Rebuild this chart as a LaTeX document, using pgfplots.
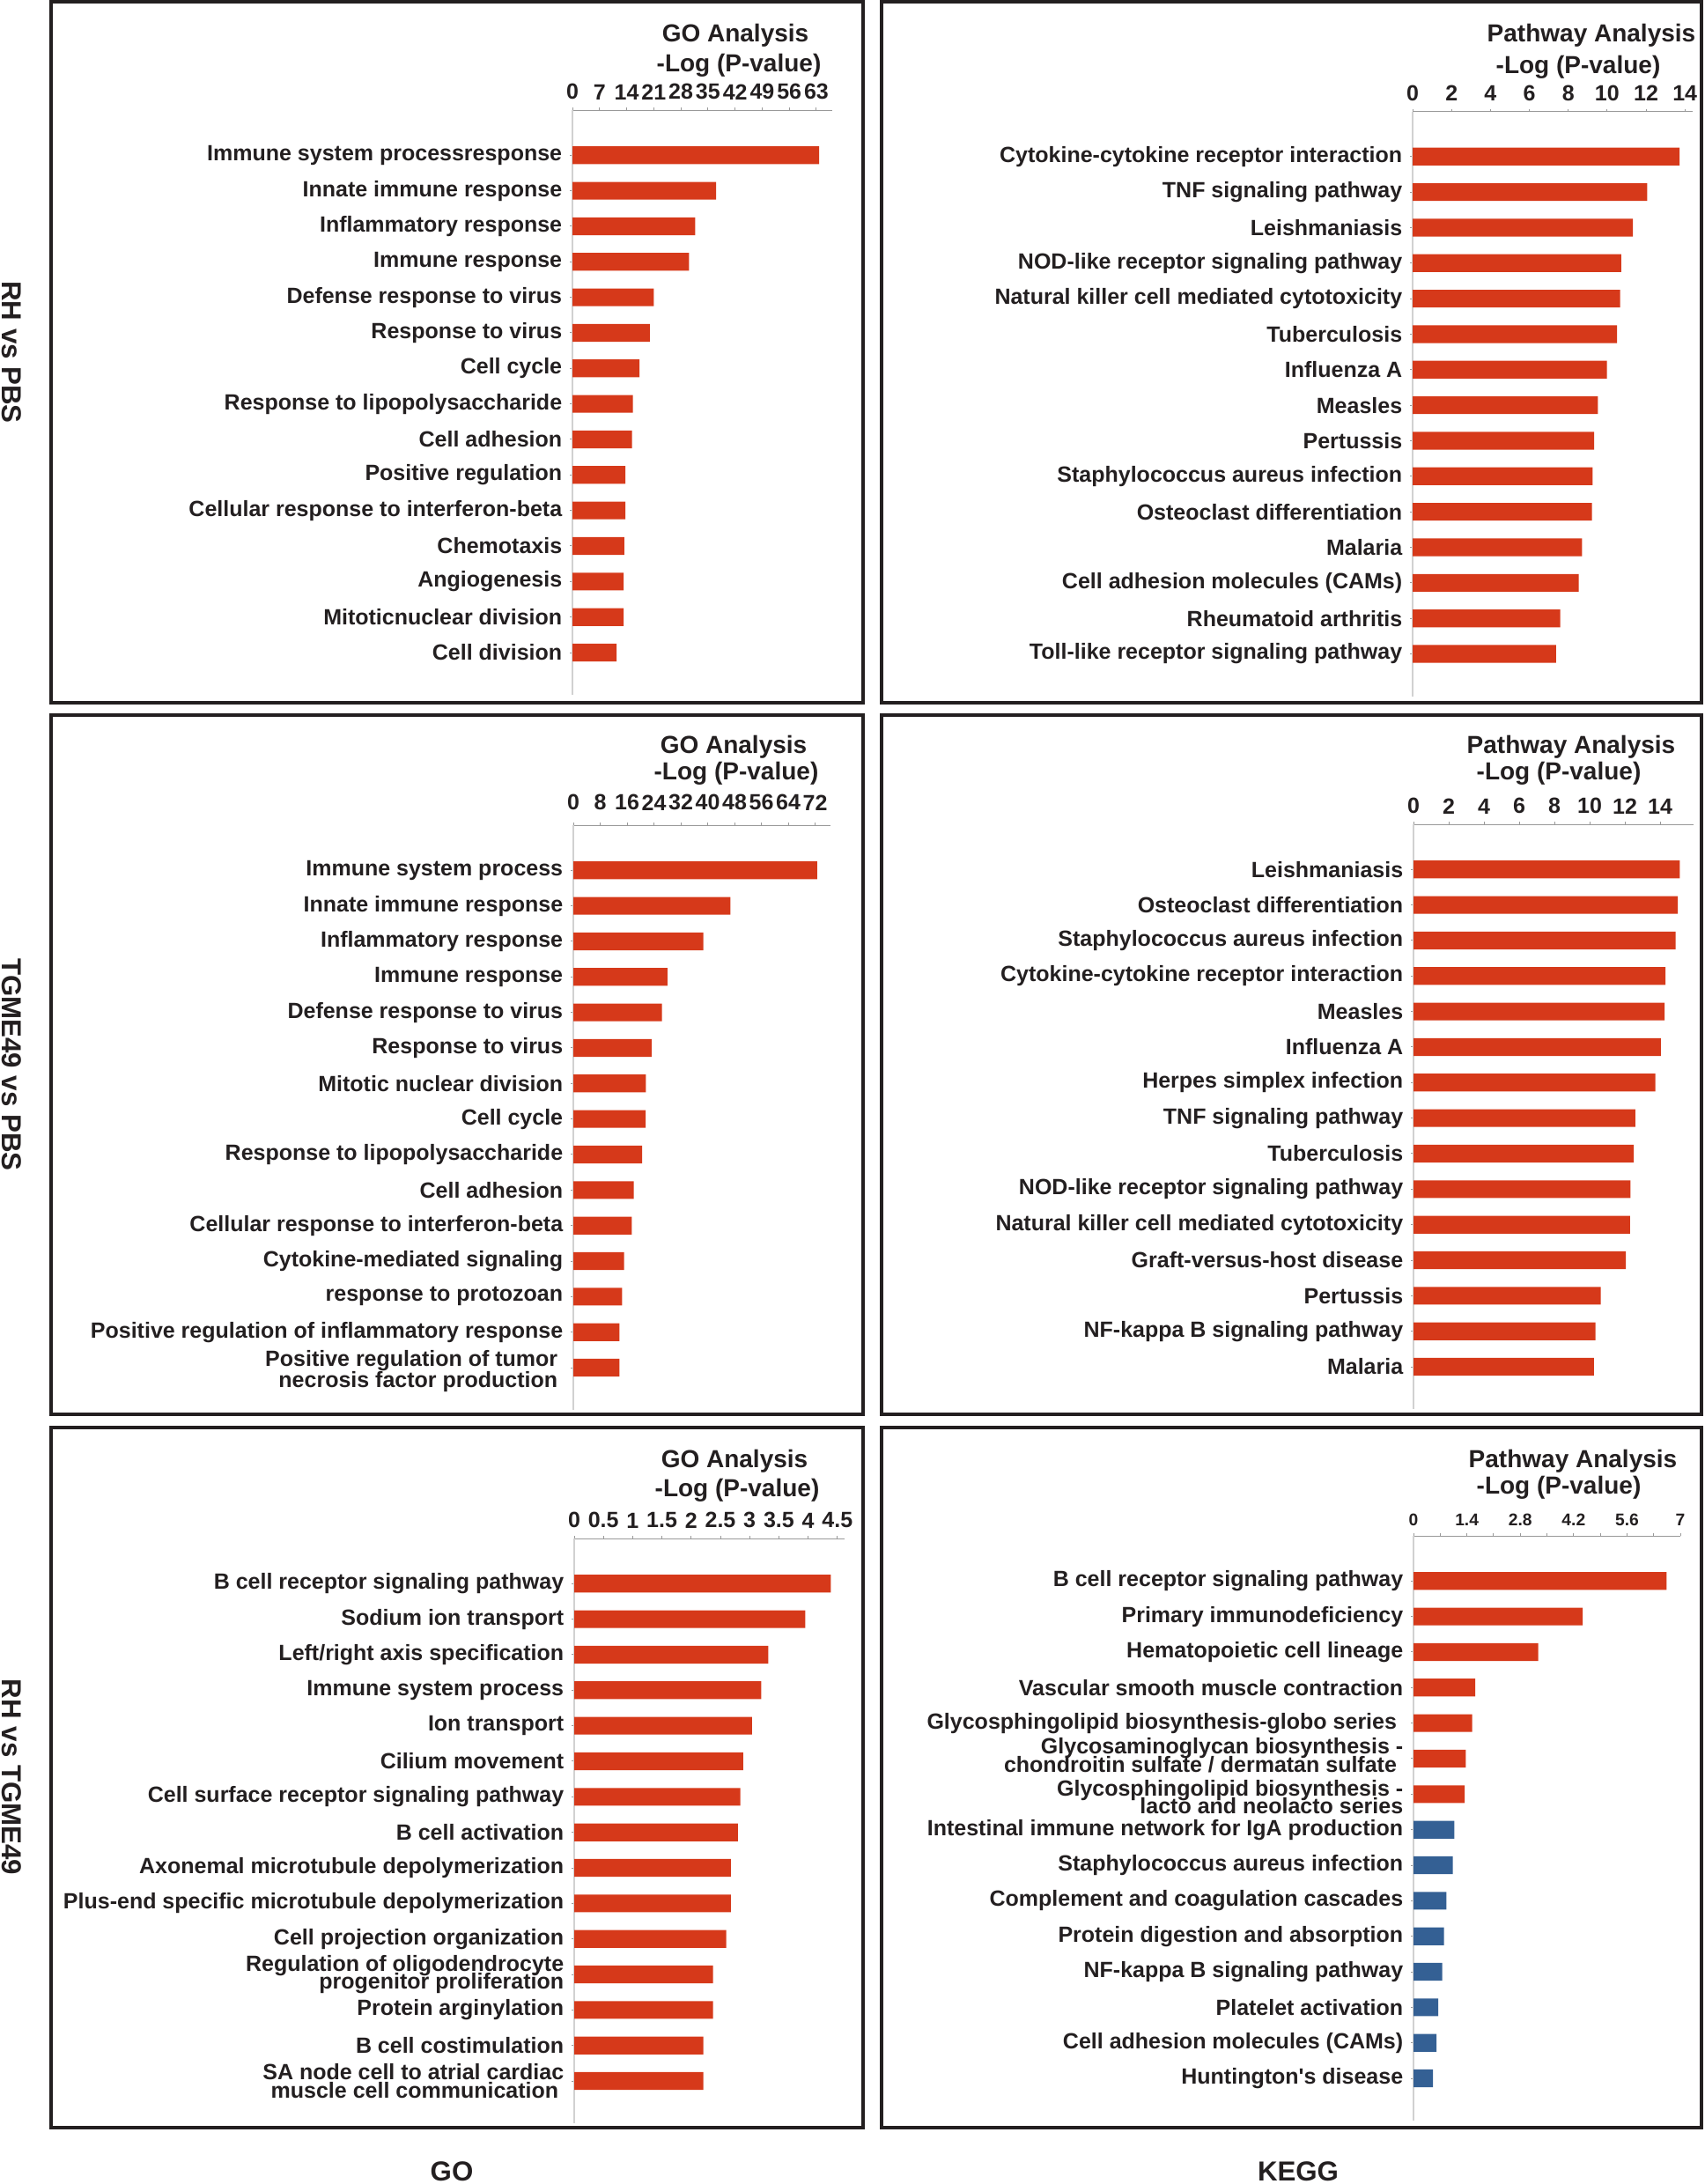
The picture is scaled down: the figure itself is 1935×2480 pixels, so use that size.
\documentclass[border=0pt]{standalone}
\usepackage{pgfplots}
\pgfplotsset{compat=1.18}
\usepackage{fontspec}
\setmainfont{Liberation Sans}
\definecolor{txt}{RGB}{35,31,32}
\definecolor{barred}{RGB}{214,57,26}
\definecolor{barblue}{RGB}{52,96,148}

\newcommand{\lblfont}{\fontsize{10}{8.2}\selectfont\bfseries\lineskiplimit=-20pt\relax\lineskip=0pt\relax}
\pgfplotsset{
  panel/.style={
    scale only axis, anchor=north west,
    height=265.6pt,
    xmin=0, y dir=reverse, ymin=-0.27, ymax=16.19,
    ytick={1,...,15},
    axis x line*=top, axis y line*=left,
    x axis line style={draw=black!40, line width=0.4pt},
    y axis line style={draw=black!18, line width=0.8pt},
    tick align=outside,
    major tick length=1.2pt,
    minor tick length=1.2pt,
    tick style={draw=black!40, line width=0.4pt},
    xticklabel style={font=\fontsize{10}{12}\selectfont\bfseries, text=txt},
    yticklabel style={font=\lblfont, text=txt, align=right},
  },
  bars/.style={xbar, bar shift=0pt, bar width=0.5, draw=none, fill=barred},
}
\newcommand{\ttl}{\fontsize{11.2}{13}\selectfont\bfseries}
\newcommand{\capfont}{\fontsize{12.5}{15}\selectfont\bfseries}

\begin{document}
\begin{tikzpicture}[x=0.4pt,y=-0.4pt]
\useasboundingbox (0,0) rectangle (1935,2480);

% panel frames
\foreach \ya/\yb in {2/798, 812/1606, 1621/2416}{
  \draw[line width=1.3pt, txt] (58,\ya) rectangle (980,\yb);
  \draw[line width=1.3pt, txt] (1001,\ya) rectangle (1932,\yb);
}

% row and column captions
\node[rotate=-90, text=txt, font=\capfont] at (13,400) {RH vs PBS};
\node[rotate=-90, text=txt, font=\capfont] at (13,1209) {TGME49 vs PBS};
\node[rotate=-90, text=txt, font=\capfont] at (13,2018) {RH vs TGME49};
\node[text=txt, font=\capfont] at (513,2466) {GO};
\node[text=txt, font=\capfont] at (1474,2466) {KEGG};

% titles
\node[anchor=base, text=txt, font=\ttl] at (835,47) {GO Analysis};
\node[anchor=base, text=txt, font=\ttl] at (839,81) {-Log (P-value)};
\node[anchor=base, text=txt, font=\ttl] at (1807,47) {Pathway Analysis};
\node[anchor=base, text=txt, font=\ttl] at (1792,83) {-Log (P-value)};
\node[anchor=base, text=txt, font=\ttl] at (833,855) {GO Analysis};
\node[anchor=base, text=txt, font=\ttl] at (836,885) {-Log (P-value)};
\node[anchor=base, text=txt, font=\ttl] at (1784,855) {Pathway Analysis};
\node[anchor=base, text=txt, font=\ttl] at (1770,885) {-Log (P-value)};
\node[anchor=base, text=txt, font=\ttl] at (834,1666) {GO Analysis};
\node[anchor=base, text=txt, font=\ttl] at (837,1699) {-Log (P-value)};
\node[anchor=base, text=txt, font=\ttl] at (1786,1666) {Pathway Analysis};
\node[anchor=base, text=txt, font=\ttl] at (1770,1696) {-Log (P-value)};

% RH vs PBS, GO
\begin{axis}[panel, at={(260pt,-50pt)}, width=118pt, xmax=67.1,
  xtick={0,7,...,63}, xticklabels={0,7,14,21,28,35,42,49,56,63},
  yticklabels={Immune system processresponse, Innate immune response,
    Inflammatory response, Immune response, Defense response to virus,
    Response to virus, Cell cycle, Response to lipopolysaccharide,
    Cell adhesion, Positive regulation, Cellular response to interferon-beta,
    Chemotaxis, Angiogenesis, Mitoticnuclear division, Cell division}]
\addplot[bars] coordinates {(63.7,1) (37.1,2) (31.7,3) (30.1,4) (21.0,5)
  (20.0,6) (17.3,7) (15.6,8) (15.4,9) (13.7,10) (13.7,11) (13.4,12)
  (13.2,13) (13.2,14) (11.4,15)};
\end{axis}

% RH vs PBS, KEGG
\begin{axis}[panel, at={(641.6pt,-50.6pt)}, width=127.2pt, xmax=14.4,
  xtick={0,2,...,14}, xticklabels={0,2,4,6,8,10,12,14},
  yticklabels={Cytokine-cytokine receptor interaction, TNF signaling pathway,
    Leishmaniasis, NOD-like receptor signaling pathway,
    Natural killer cell mediated cytotoxicity, Tuberculosis, Influenza A,
    Measles, Pertussis, Staphylococcus aureus infection,
    Osteoclast differentiation, Malaria, Cell adhesion molecules (CAMs),
    Rheumatoid arthritis, Toll-like receptor signaling pathway}]
\addplot[bars] coordinates {(13.73,1) (12.06,2) (11.33,3) (10.73,4) (10.67,5)
  (10.51,6) (9.99,7) (9.53,8) (9.33,9) (9.25,10) (9.22,11) (8.71,12)
  (8.54,13) (7.59,14) (7.37,15)};
\end{axis}

% TGME49 vs PBS, GO
\begin{axis}[panel, at={(260.4pt,-374.8pt)}, width=116.7pt, xmax=76.5,
  xtick={0,8,...,72}, xticklabels={0,8,16,24,32,40,48,56,64,72},
  xticklabel style={yshift=2pt},
  yticklabels={Immune system process, Innate immune response,
    Inflammatory response, Immune response, Defense response to virus,
    Response to virus, Mitotic nuclear division, Cell cycle,
    Response to lipopolysaccharide, Cell adhesion,
    Cellular response to interferon-beta, Cytokine-mediated signaling,
    response to protozoan, Positive regulation of inflammatory response,
    {\rule{0pt}{10.5pt}Positive regulation of tumor\hspace*{2.4pt}\\[1.6pt]necrosis factor production\hspace*{2.4pt}}}]
\addplot[bars] coordinates {(72.6,1) (46.8,2) (38.7,3) (28.0,4) (26.4,5)
  (23.3,6) (21.6,7) (21.5,8) (20.5,9) (18.0,10) (17.4,11) (15.1,12)
  (14.5,13) (13.7,14) (13.7,15)};
\end{axis}

% TGME49 vs PBS, KEGG
\begin{axis}[panel, at={(642pt,-374.4pt)}, width=127.2pt, xmax=15.9,
  xtick={0,2,...,14}, xticklabels={0,2,4,6,8,10,12,14},
  yticklabels={Leishmaniasis, Osteoclast differentiation,
    Staphylococcus aureus infection, Cytokine-cytokine receptor interaction,
    Measles, Influenza A, Herpes simplex infection, TNF signaling pathway,
    Tuberculosis, NOD-like receptor signaling pathway,
    Natural killer cell mediated cytotoxicity, Graft-versus-host disease,
    Pertussis, NF-kappa B signaling pathway, Malaria}]
\addplot[bars] coordinates {(15.12,1) (15.0,2) (14.88,3) (14.3,4) (14.25,5)
  (14.04,6) (13.73,7) (12.59,8) (12.5,9) (12.32,10) (12.29,11) (12.05,12)
  (10.63,13) (10.33,14) (10.24,15)};
\end{axis}

% RH vs TGME49, GO
\begin{axis}[panel, at={(260.8pt,-698.8pt)}, width=122.7pt, xmax=4.62,
  xtick={0,0.5,1,1.5,2,2.5,3,3.5,4,4.5},
  xticklabels={0,0.5,1,1.5,2,2.5,3,3.5,4,4.5},
  yticklabels={B cell receptor signaling pathway, Sodium ion transport,
    Left/right axis specification, Immune system process, Ion transport,
    Cilium movement, Cell surface receptor signaling pathway,
    B cell activation, Axonemal microtubule depolymerization,
    Plus-end specific microtubule depolymerization,
    Cell projection organization,
    {Regulation of oligodendrocyte\\progenitor proliferation},
    Protein arginylation, B cell costimulation,
    {SA node cell to atrial cardiac\\muscle cell communication\hspace*{2.4pt}}}]
\addplot[bars] coordinates {(4.39,1) (3.95,2) (3.32,3) (3.20,4) (3.04,5)
  (2.89,6) (2.84,7) (2.80,8) (2.68,9) (2.68,10) (2.60,11) (2.375,12)
  (2.375,13) (2.21,14) (2.21,15)};
\end{axis}

% RH vs TGME49, KEGG
\begin{axis}[panel, at={(642pt,-697.6pt)}, width=121.2pt, xmax=7,
  xtick={0,1.4,2.8,4.2,5.6,7}, xticklabels={0,1.4,2.8,4.2,5.6,7},
  minor xtick={0.7,2.1,3.5,4.9,6.3},
  xticklabel style={font=\fontsize{7.7}{9}\selectfont\bfseries},
  yticklabels={B cell receptor signaling pathway, Primary immunodeficiency,
    Hematopoietic cell lineage, Vascular smooth muscle contraction,
    Glycosphingolipid biosynthesis-globo series\hspace*{2.9pt},
    {Glycosaminoglycan biosynthesis -\\chondroitin sulfate / dermatan sulfate\hspace*{2.9pt}\rule[-3.2pt]{0pt}{0pt}},
    {\rule{0pt}{10pt}Glycosphingolipid biosynthesis -\\lacto and neolacto series},
    Intestinal immune network for IgA production,
    Staphylococcus aureus infection, Complement and coagulation cascades,
    Protein digestion and absorption, NF-kappa B signaling pathway,
    Platelet activation, Cell adhesion molecules (CAMs),
    Huntington\textquotesingle s disease}]
\addplot[bars] coordinates {(6.64,1) (4.44,2) (3.27,3) (1.62,4) (1.54,5)
  (1.37,6) (1.34,7)};
\addplot[bars, fill=barblue] coordinates {(1.07,8) (1.03,9) (0.86,10)
  (0.80,11) (0.75,12) (0.65,13) (0.60,14) (0.51,15)};
\end{axis}
\end{tikzpicture}
\end{document}
